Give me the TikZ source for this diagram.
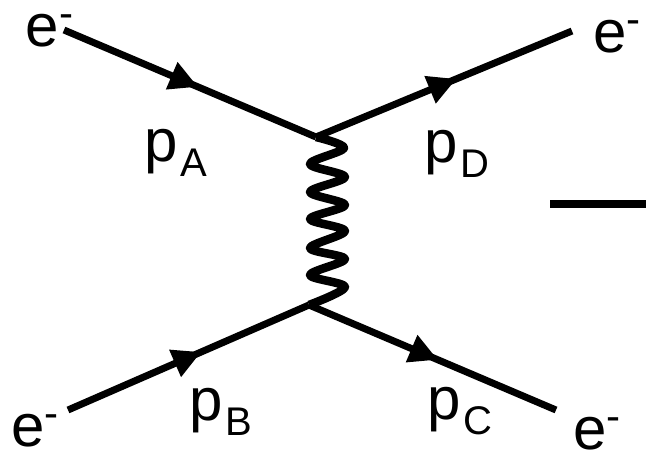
\documentclass[tikz,border=0pt]{standalone}
\usepackage{fontspec}
\setmainfont{Liberation Sans}
\usetikzlibrary{decorations.markings}
\newcommand{\myel}{e\raisebox{19pt}{\fontsize{42}{42}\selectfont -}}
\newcommand{\mymom}[1]{p\hspace{3pt}\raisebox{-15pt}{\fontsize{40}{40}\selectfont #1}}
\tikzset{
  fermion/.style={line width=7pt, postaction={decorate},
    decoration={markings, mark=at position #1 with {\fill (1pt,0pt) -- (-27pt,15pt) -- (-27pt,-15pt) -- cycle;}}},
  fermion/.default=0.53,
  photon/.style={line width=8.5pt, line join=round},
  bar/.style={line width=8pt},
  lbl/.style={anchor=base west, inner sep=0pt, outer sep=0pt, font=\fontsize{60}{60}\selectfont},
}
\begin{document}
\begin{tikzpicture}[x=1pt,y=-1pt]
\useasboundingbox (0,0) rectangle (646,451);
\coordinate (a) at (64,30);
\coordinate (vt) at (316,137);
\coordinate (d) at (572,31);
\coordinate (b) at (68,410);
\coordinate (vb) at (309,305);
\coordinate (c) at (556,410);
\coordinate (m1) at (550,204);
\coordinate (m2) at (646,204);
\draw[fermion=0.526] (a) -- (vt);
\draw[fermion=0.543] (vt) -- (d);
\draw[fermion=0.547] (b) -- (vb);
\draw[fermion=0.516] (vb) -- (c);
\draw[photon] plot[smooth, tension=0.55] coordinates {(vt) (344,148) (310,164) (345,177) (310,192) (345,205) (310,219) (345,231) (310,248) (345,259) (310,275) (345,287) (vb)};
\draw[bar] (m1) -- (m2);
\node[lbl] (ea) at (26,46) {\myel};
\node[lbl] (ed) at (593,52) {\myel};
\node[lbl] (eb) at (11,446) {\myel};
\node[lbl] (ec) at (573,449) {\myel};
\node[lbl] (pa) at (144,161) {\mymom{A}};
\node[lbl] (pd) at (424,162) {\mymom{D}};
\node[lbl] (pb) at (189,420) {\mymom{B}};
\node[lbl] (pc) at (427,419) {\mymom{C}};
\end{tikzpicture}
\end{document}
